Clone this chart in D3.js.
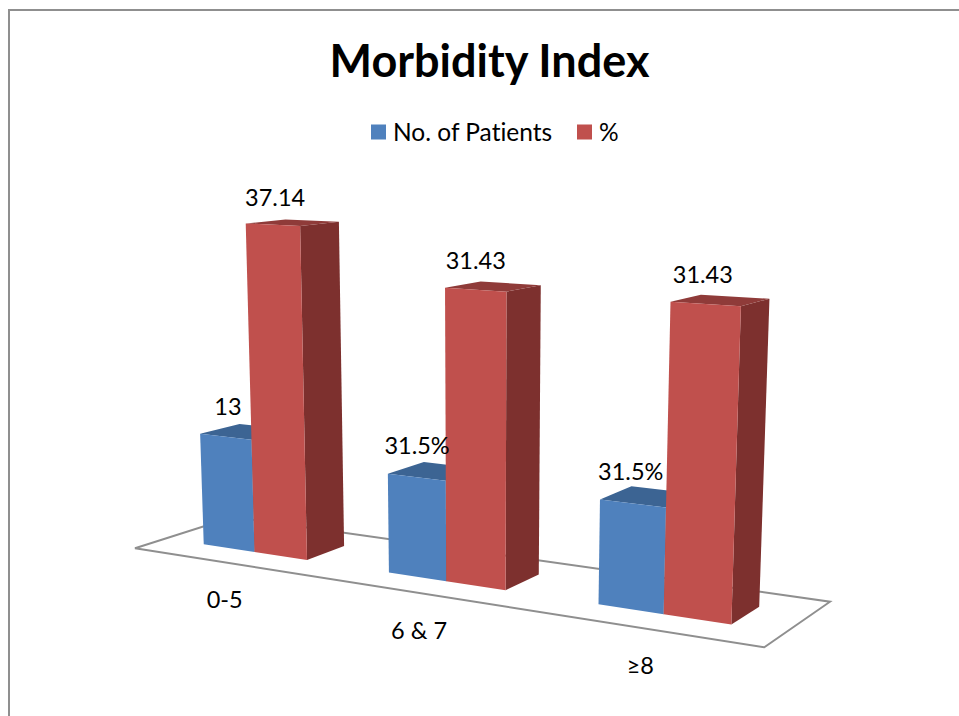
<!DOCTYPE html>
<html>
<head>
<meta charset="utf-8">
<style>
html,body{margin:0;padding:0;background:#fff;overflow:hidden}
text{font-family:Lato,Carlito,Calibri,sans-serif;fill:#000;font-variant-ligatures:none}
</style>
<script src="https://cdn.jsdelivr.net/npm/d3@7/dist/d3.min.js"></script>
</head>
<body>
<svg id="chart" width="959" height="716"></svg>
<script>
const chartTitle = "Morbidity Index";
const categories = ["0-5", "6 & 7", "≥8"];
const seriesNames = ["No. of Patients", "%"];
const patients = [13, 11, 11];
const percent = [37.14, 31.43, 31.43];
const patientLabels = ["13", "31.5%", "31.5%"];
const percentLabels = ["37.14", "31.43", "31.43"];

const svg = d3.select("#chart");

// camera: the floor quad maps the unit square, verticals converge on a far vanishing point
const floorCorners = [[135, 548.3], [764.3, 647.3], [830, 601.7], [233, 517]];
const vanish = [480, 9000];
const [p0, p1, p2, p3] = floorCorners;
const dx1 = p1[0] - p2[0], dx2 = p3[0] - p2[0], sx = p0[0] - p1[0] + p2[0] - p3[0];
const dy1 = p1[1] - p2[1], dy2 = p3[1] - p2[1], sy = p0[1] - p1[1] + p2[1] - p3[1];
const det = dx1 * dy2 - dx2 * dy1;
const g = (sx * dy2 - dx2 * sy) / det, h = (dx1 * sy - sx * dy1) / det;
const a = p1[0] - p0[0] + g * p1[0], b = p3[0] - p0[0] + h * p3[0], c = p0[0];
const d = p1[1] - p0[1] + g * p1[1], e = p3[1] - p0[1] + h * p3[1], f = p0[1];

const heightScale = d3.scaleLinear().domain([0, 40]).range([0, -0.04]);
function project(u, v, value) {
  const s = heightScale(value);
  const w = g * u + h * v + 1 + s;
  return [(a * u + b * v + c + s * vanish[0]) / w, (d * u + e * v + f + s * vanish[1]) / w];
}

const groupScale = d3.scaleBand().domain(categories).range([0.002, 0.998]).paddingInner(0.4277).paddingOuter(0.21385);
const seriesScale = d3.scaleBand().domain(seriesNames).range([0, groupScale.bandwidth()]);
const depthScale = d3.scaleLinear().domain([0, 1]).range([0.3, 0.703]);
const line = d3.line();
const closed = pts => line(pts) + "Z";

const colors = {
  [seriesNames[0]]: { front: "#4F81BD", top: "#3C6493", side: "#325479" },
  [seriesNames[1]]: { front: "#C0504D", top: "#8F3B39", side: "#7D302E" }
};

// chart frame
svg.append("path").attr("d", "M9,716V10H959").attr("fill", "none").attr("stroke", "#8f8f8f").attr("stroke-width", 2);

// title
svg.append("text").attr("x", 489.5).attr("y", 77).attr("text-anchor", "middle")
  .attr("font-size", 45).attr("font-weight", 700).text(chartTitle);

// legend
const legendX = [371, 577];
seriesNames.forEach((name, i) => {
  svg.append("rect").attr("x", legendX[i]).attr("y", 124.5).attr("width", 15).attr("height", 15)
    .attr("fill", colors[name].front);
  svg.append("text").attr("x", legendX[i] + 22).attr("y", 140.5).attr("font-size", 24.5).text(name);
});

// floor
svg.append("path").attr("d", closed([[0,0],[1,0],[1,1],[0,1]].map(q => project(q[0], q[1], 0))))
  .attr("fill", "#fff").attr("stroke", "#8f8f8f").attr("stroke-width", 2);

// bars
const bars = [];
seriesNames.forEach((name, si) => {
  const values = si === 0 ? patients : percent;
  const labels = si === 0 ? patientLabels : percentLabels;
  categories.forEach((cat, ci) => bars.push({ name, cat, value: values[ci], label: labels[ci] }));
});

const barG = svg.append("g").selectAll("g").data(bars).join("g");
barG.each(function(o) {
  const u0 = groupScale(o.cat) + seriesScale(o.name), u1 = u0 + seriesScale.bandwidth();
  const v0 = depthScale(0), v1 = depthScale(1);
  const col = colors[o.name];
  const sel = d3.select(this);
  sel.append("path").attr("d", closed([project(u1, v0, 0), project(u1, v1, 0), project(u1, v1, o.value), project(u1, v0, o.value)])).attr("fill", col.side);
  sel.append("path").attr("d", closed([project(u0, v0, o.value), project(u1, v0, o.value), project(u1, v1, o.value), project(u0, v1, o.value)])).attr("fill", col.top);
  sel.append("path").attr("d", closed([project(u0, v0, 0), project(u1, v0, 0), project(u1, v0, o.value), project(u0, v0, o.value)])).attr("fill", col.front);
});

// value labels
svg.append("g").selectAll("text").data(bars).join("text")
  .attr("text-anchor", "middle").attr("font-size", 23.5)
  .attr("x", o => project(groupScale(o.cat) + seriesScale(o.name) + seriesScale.bandwidth() / 2, depthScale(0.5), o.value)[0] - 17.5)
  .attr("y", o => project(groupScale(o.cat) + seriesScale(o.name) + seriesScale.bandwidth() / 2, depthScale(0.5), o.value)[1] - 17)
  .text(o => o.label);

// category labels
svg.append("g").selectAll("text").data(categories).join("text")
  .attr("text-anchor", "middle").attr("font-size", 23.5)
  .attr("x", cat => project(groupScale(cat) + groupScale.bandwidth() / 2, 0, 0)[0])
  .attr("y", cat => project(groupScale(cat) + groupScale.bandwidth() / 2, 0, 0)[1] + 46)
  .text(cat => cat);
</script>
</body>
</html>
